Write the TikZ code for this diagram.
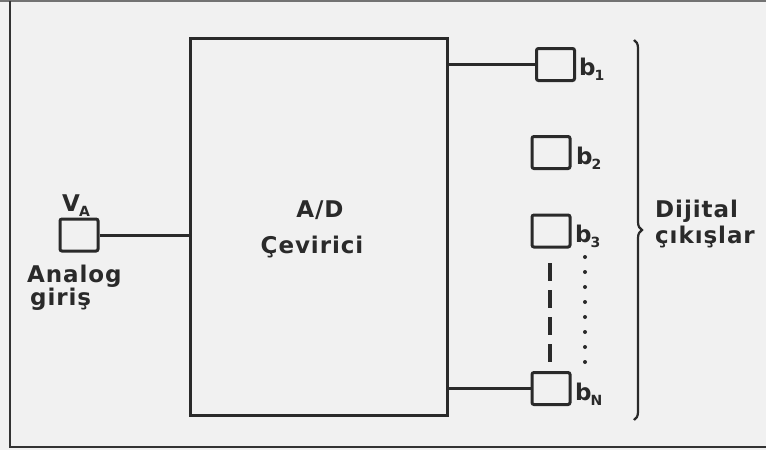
\documentclass[tikz,border=0pt]{standalone}
\usepackage{fontspec}
\setmainfont{DejaVu Sans}[LetterSpace=4]
\usetikzlibrary{decorations.pathreplacing}
\definecolor{ink}{HTML}{2A2A2A}
\definecolor{paper}{HTML}{F1F1F1}
\tikzset{
  ln/.style={line width=3pt, draw=ink},
  sbox/.style={ln, rounded corners=2pt, minimum width=38pt, minimum height=32pt, inner sep=0pt},
  lbl/.style={text=ink, inner sep=0pt, font=\fontsize{23}{26}\selectfont\bfseries},
  blbl/.style={lbl, anchor=base west},
  sub/.style={},
}
\newcommand\mysub[1]{\kern-1pt\raisebox{-5pt}{\fontsize{14}{14}\selectfont #1}}
\begin{document}
\begin{tikzpicture}[x=1pt,y=-1pt]
  \fill[paper] (0,0) rectangle (766,450);
  \useasboundingbox (0,0) rectangle (766,450);
  % frame
  \draw[line width=2.5pt, draw=black!55] (0,1) -- (766,1);
  \draw[line width=2pt, draw=black!80] (10,1) -- (10,447) -- (766,447);
  % main converter
  \node[ln, minimum width=257pt, minimum height=377pt, inner sep=0pt] (adc) at (318.5,226.5) {};
  \node[lbl, anchor=base] (t1) at (320,217) {A/D};
  \node[lbl, anchor=base] (t2) at (312,253) {Çevirici};
  % input
  \node[sbox] (in) at (79,235) {};
  \node[blbl] (va) at (62,211) {V\mysub{A}};
  \node[blbl] (an) at (27,282) {Analog};
  \node[blbl] (gi) at (30,305) {giriş};
  \draw[ln] (in.east) -- (adc.west |- in.east);
  % outputs
  \node[sbox] (b1) at (555.5,64.5) {};
  \node[sbox] (b2) at (551,152.5) {};
  \node[sbox] (b3) at (551,231) {};
  \node[sbox] (bN) at (551,388.5) {};
  \node[blbl] (l1) at (579,75) {b\mysub{1}};
  \node[blbl] (l2) at (576,164) {b\mysub{2}};
  \node[blbl] (l3) at (575,242) {b\mysub{3}};
  \node[blbl] (lN) at (575,400) {b\mysub{N}};
  \draw[ln] (adc.east |- b1.west) -- (b1.west);
  \draw[ln] (adc.east |- bN.west) -- (bN.west);
  % continuation marks
  \coordinate (d1) at (550,263);
  \coordinate (d2) at (550,365);
  \draw[ln, line width=3.4pt, dash pattern=on 18pt off 9pt] (d1) -- (d2);
  \foreach \k in {0,...,7} {
    \fill[ink] (585,{257+15*\k}) circle (2pt);
  }
  % brace
  \coordinate (br1) at (634,40);
  \coordinate (br2) at (634,420);
  \draw[ln, line width=2.2pt, decorate, decoration={brace, amplitude=8pt}] (br1) -- (br2);
  \node[blbl] (dj) at (655,217) {Dijital};
  \node[blbl] (ck) at (655,243) {çıkışlar};
\end{tikzpicture}
\end{document}
